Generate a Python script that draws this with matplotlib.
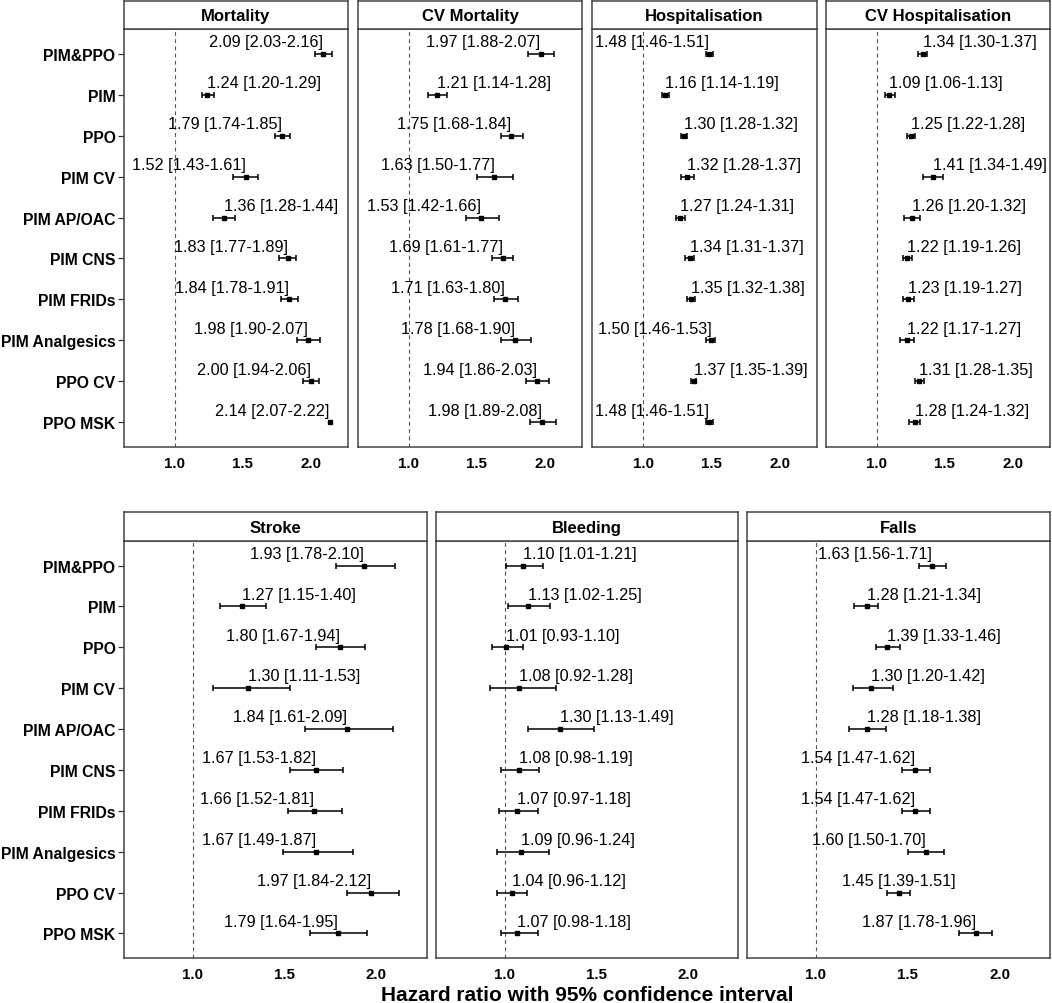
import numpy as np
import matplotlib
matplotlib.use("Agg")
import matplotlib.pyplot as plt

plt.rcParams['font.family'] = ['Liberation Sans', 'DejaVu Sans']

categories = ["PIM&PPO", "PIM", "PPO", "PIM CV", "PIM AP/OAC", "PIM CNS",
              "PIM FRIDs", "PIM Analgesics", "PPO CV", "PPO MSK"]

outcomes = ["Mortality", "CV Mortality", "Hospitalisation", "CV Hospitalisation",
            "Stroke", "Bleeding", "Falls"]

mortality_hr = [2.09, 1.24, 1.79, 1.52, 1.36, 1.83, 1.84, 1.98, 2.00, 2.14]
mortality_lo = [2.03, 1.20, 1.74, 1.43, 1.28, 1.77, 1.78, 1.90, 1.94, 2.07]
mortality_hi = [2.16, 1.29, 1.85, 1.61, 1.44, 1.89, 1.91, 2.07, 2.06, 2.22]

cvmort_hr = [1.97, 1.21, 1.75, 1.63, 1.53, 1.69, 1.71, 1.78, 1.94, 1.98]
cvmort_lo = [1.88, 1.14, 1.68, 1.50, 1.42, 1.61, 1.63, 1.68, 1.86, 1.89]
cvmort_hi = [2.07, 1.28, 1.84, 1.77, 1.66, 1.77, 1.80, 1.90, 2.03, 2.08]

hosp_hr = [1.48, 1.16, 1.30, 1.32, 1.27, 1.34, 1.35, 1.50, 1.37, 1.48]
hosp_lo = [1.46, 1.14, 1.28, 1.28, 1.24, 1.31, 1.32, 1.46, 1.35, 1.46]
hosp_hi = [1.51, 1.19, 1.32, 1.37, 1.31, 1.37, 1.38, 1.53, 1.39, 1.51]

cvhosp_hr = [1.34, 1.09, 1.25, 1.41, 1.26, 1.22, 1.23, 1.22, 1.31, 1.28]
cvhosp_lo = [1.30, 1.06, 1.22, 1.34, 1.20, 1.19, 1.19, 1.17, 1.28, 1.24]
cvhosp_hi = [1.37, 1.13, 1.28, 1.49, 1.32, 1.26, 1.27, 1.27, 1.35, 1.32]

stroke_hr = [1.93, 1.27, 1.80, 1.30, 1.84, 1.67, 1.66, 1.67, 1.97, 1.79]
stroke_lo = [1.78, 1.15, 1.67, 1.11, 1.61, 1.53, 1.52, 1.49, 1.84, 1.64]
stroke_hi = [2.10, 1.40, 1.94, 1.53, 2.09, 1.82, 1.81, 1.87, 2.12, 1.95]

bleed_hr = [1.10, 1.13, 1.01, 1.08, 1.30, 1.08, 1.07, 1.09, 1.04, 1.07]
bleed_lo = [1.01, 1.02, 0.93, 0.92, 1.13, 0.98, 0.97, 0.96, 0.96, 0.98]
bleed_hi = [1.21, 1.25, 1.10, 1.28, 1.49, 1.19, 1.18, 1.24, 1.12, 1.18]

falls_hr = [1.63, 1.28, 1.39, 1.30, 1.28, 1.54, 1.54, 1.60, 1.45, 1.87]
falls_lo = [1.56, 1.21, 1.33, 1.20, 1.18, 1.47, 1.47, 1.50, 1.39, 1.78]
falls_hi = [1.71, 1.34, 1.46, 1.42, 1.38, 1.62, 1.62, 1.70, 1.51, 1.96]

x_ticks = [1.0, 1.5, 2.0]
x_tick_labels = ["1.0", "1.5", "2.0"]
x_label = "Hazard ratio with 95% confidence interval"

series = {
    "Mortality": (mortality_hr, mortality_lo, mortality_hi),
    "CV Mortality": (cvmort_hr, cvmort_lo, cvmort_hi),
    "Hospitalisation": (hosp_hr, hosp_lo, hosp_hi),
    "CV Hospitalisation": (cvhosp_hr, cvhosp_lo, cvhosp_hi),
    "Stroke": (stroke_hr, stroke_lo, stroke_hi),
    "Bleeding": (bleed_hr, bleed_lo, bleed_hi),
    "Falls": (falls_hr, falls_lo, falls_hi),
}

# scale limits (values outside are dropped, like ggplot) and expansion
LIM = (0.7, 2.2)
EXP = 0.05 * (LIM[1] - LIM[0])
SPLIT = 1.45

W, H = 1052, 1004
fig = plt.figure(figsize=(W / 100, H / 100), dpi=100)

top_x = [(124, 348), (358, 582), (592, 817), (826, 1050)]
bot_x = [(124, 427), (436, 738), (747, 1050)]
rows = [
    (outcomes[:4], top_x, 30, 448, 2),
    (outcomes[4:], bot_x, 542, 959, 513),
]

border = "#444444"
for names, xs, ytop, ybot, stop in rows:
    for k, (name, (x0, x1)) in enumerate(zip(names, xs)):
        l = x0 / W
        w = (x1 - x0) / W
        b = 1 - ybot / H
        h = (ybot - ytop) / H
        ax = fig.add_axes([l, b, w, h])
        hr, lo, hi = (np.array(v) for v in series[name])
        y = np.arange(len(categories))
        ax.set_xlim(LIM[0] - EXP, LIM[1] + EXP)
        ax.set_ylim(len(categories) - 0.4, -0.6)
        ax.axvline(1.0, color="#555555", lw=0.8, ls=(0, (3.5, 3.0)), zorder=1)
        keep = (lo >= LIM[0]) & (hi <= LIM[1])
        ax.errorbar(hr[keep], y[keep], xerr=[hr[keep] - lo[keep], hi[keep] - hr[keep]],
                    fmt="none", ecolor="black", elinewidth=1.1, capsize=1.9,
                    capthick=1.1, zorder=2)
        ax.plot(hr, y, "s", ms=2.5, color="black", zorder=3)
        for i in range(len(categories)):
            d = round(hr[i] - SPLIT, 4)
            ha = "right" if d > 0 else ("left" if d < 0 else "center")
            ax.text(hr[i], y[i] - 0.19, f"{hr[i]:.2f} [{lo[i]:.2f}-{hi[i]:.2f}]",
                    ha=ha, va="baseline", fontsize=11.7, color="black", zorder=4)
        ax.set_xticks(x_ticks)
        ax.set_xticklabels(x_tick_labels, fontsize=10.8, fontweight="bold")
        ax.tick_params(axis="x", length=0, pad=6.5)
        ax.set_yticks(y)
        if k == 0:
            ax.set_yticklabels(categories, fontsize=11.3, fontweight="bold")
            ax.tick_params(axis="y", length=4.0, width=0.9, color="#333333", pad=2.2)
        else:
            ax.set_yticklabels([])
            ax.tick_params(axis="y", length=0)
        for sp in ax.spines.values():
            sp.set_color(border)
            sp.set_linewidth(1.1)
        # strip
        sh = (ytop - stop) / H
        sax = fig.add_axes([l, b + h, w, sh])
        sax.set_xticks([])
        sax.set_yticks([])
        sax.set_facecolor("white")
        for sp in sax.spines.values():
            sp.set_color(border)
            sp.set_linewidth(1.1)
        sax.text(0.5, 0.47, name, ha="center", va="center", fontsize=12,
                 fontweight="bold", transform=sax.transAxes)

fig.text((124 + 1050) / 2 / W, 0.003, x_label, ha="center", va="baseline",
         fontsize=15, fontweight="bold")

fig.savefig("out.png", dpi=100)
